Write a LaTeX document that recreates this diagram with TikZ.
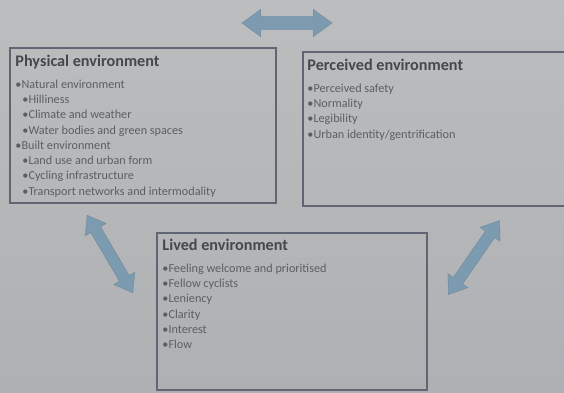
\documentclass[tikz,border=0pt]{standalone}
\usepackage{fontspec}
\setmainfont{Carlito}
\usepackage{xcolor}
\usepackage{tikz}
\usetikzlibrary{shapes.arrows, positioning}
\definecolor{slidegraytop}{RGB}{187, 189, 190}
\definecolor{slidegraybot}{RGB}{174, 176, 179}
\definecolor{boxline}{RGB}{96, 101, 116}
\definecolor{titlegray}{RGB}{70, 71, 76}
\definecolor{itemgray}{RGB}{92, 94, 99}
\definecolor{linkblue}{RGB}{124, 154, 176}

\tikzset{
  envbox/.style={draw=boxline, line width=1.5pt, inner sep=0pt},
  envtext/.style={inner sep=0pt, align=left, text=itemgray,
    font=\fontsize{12.2}{15.3}\selectfont},
  linkarrow/.style={double arrow, fill=linkblue, draw=linkblue!85!black, line width=0.3pt,
    inner xsep=0pt, inner ysep=6pt, double arrow head extend=6.5pt,
    double arrow tip angle=72, minimum height=90pt}
}
\newcommand{\envtitle}[1]{{\fontsize{16.2}{15.3}\selectfont\bfseries\color{titlegray}#1}\\[6pt]}
\newcommand{\envsub}{\hspace{7pt}\textbullet}

\begin{document}
\begin{tikzpicture}[x=1pt, y=1pt]
    % slide background
    \shade[top color=slidegraytop, bottom color=slidegraybot] (0,0) rectangle (564,392);
    \useasboundingbox (0,0) rectangle (564,392);

    % Physical environment
    \node[envbox, minimum width=266pt, minimum height=155pt] (phys) at (143,266.5) {};
    \node[envtext, below right=8pt and 6pt of phys.north west] (phystext) {%
      \envtitle{Physical environment}
      \textbullet Natural environment\\
      \envsub Hilliness\\
      \envsub Climate and weather\\
      \envsub Water bodies and green spaces\\
      \textbullet Built environment\\
      \envsub Land use and urban form\\
      \envsub Cycling infrastructure\\
      \envsub Transport networks and intermodality};

    % Perceived environment
    \node[envbox, minimum width=267pt, minimum height=154pt] (perc) at (436.5,263) {};
    \node[envtext, below right=8pt and 5pt of perc.north west] (perctext) {%
      \envtitle{Perceived environment}
      \textbullet Perceived safety\\
      \textbullet Normality\\
      \textbullet Legibility\\
      \textbullet Urban identity/gentrification};

    % Lived environment
    \node[envbox, minimum width=270pt, minimum height=157pt] (lived) at (292,80.5) {};
    \node[envtext, below right=7pt and 6pt of lived.north west] (livedtext) {%
      \envtitle{Lived environment}
      \textbullet Feeling welcome and prioritised\\
      \textbullet Fellow cyclists\\
      \textbullet Leniency\\
      \textbullet Clarity\\
      \textbullet Interest\\
      \textbullet Flow};

    % links between the environments
    \node[linkarrow, inner ysep=6.5pt, double arrow head extend=7pt] (physperc) at (287,369) {};
    \node[linkarrow, rotate=-59.5, inner ysep=5.5pt] (physlived) at (110,138) {};
    \node[linkarrow, rotate=55.3, inner ysep=5.5pt] (perclived) at (474,134.5) {};
\end{tikzpicture}
\end{document}
